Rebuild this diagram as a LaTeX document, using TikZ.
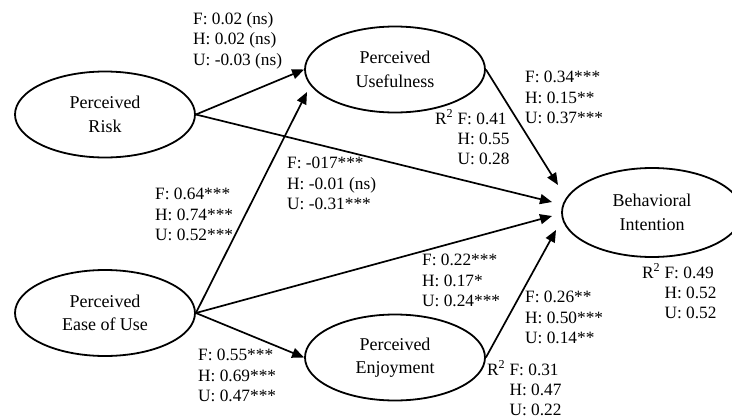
\documentclass[tikz,border=0pt]{standalone}
\usepackage{fontspec}
\setmainfont{Liberation Serif}
\usepackage{tikz}
\usetikzlibrary{
    arrows.meta,
    shapes.geometric
}

\begin{document}
\begin{tikzpicture}[x=1pt, y=-1pt,
    construct/.style={ellipse, draw, line width=1.8pt, minimum width=180pt, minimum height=86pt, inner sep=0pt, align=center, font=\fontsize{18}{23.5}\selectfont},
    coef/.style={anchor=north west, inner sep=0pt, align=left, font=\fontsize{17.3}{20.5}\selectfont},
    rsq/.style={anchor=base west, inner sep=0pt, font=\fontsize{17.3}{20}\selectfont},
    link/.style={-{Triangle[length=12pt, width=10pt]}, line width=1.7pt}
]
    \useasboundingbox (0,0) rectangle (732,418);

    % Constructs
    \node[construct] (pr) at (105,114.5) {Perceived\\Risk};
    \node[construct] (pu) at (395,69.5) {Perceived\\Usefulness};
    \node[construct] (peou) at (105,313) {Perceived\\Ease of Use};
    \node[construct] (pe) at (395,357.5) {Perceived\\Enjoyment};
    \node[construct, minimum height=89pt] (bi) at (652,212.5) {Behavioral\\Intention};

    % Arrow ends
    \coordinate (pu-in) at (307,92);
    \coordinate (bi-in1) at (558,185);
    \coordinate (bi-in2) at (552,202);
    \coordinate (bi-in3) at (552,216);
    \coordinate (bi-in4) at (556,230);

    % Paths
    \draw[link] (pr.east) -- (pu.west);
    \draw[link] (pr.east) -- (bi-in2);
    \draw[link] (peou.east) -- (pu-in);
    \draw[link] (peou.east) -- (bi-in3);
    \draw[link] (peou.east) -- (pe.west);
    \draw[link] (pu.east) -- (bi-in1);
    \draw[link] (pe.east) -- (bi-in4);

    % Path coefficients
    \node[coef] (c-pr-pu) at (193,12) {F: 0.02 (ns)\\H: 0.02 (ns)\\U: -0.03 (ns)};
    \node[coef] (c-pr-bi) at (287,157) {F: -017***\\H: -0.01 (ns)\\U: -0.31***};
    \node[coef] (c-peou-pu) at (155,188) {F: 0.64***\\H: 0.74***\\U: 0.52***};
    \node[coef] (c-peou-bi) at (422,254) {F: 0.22***\\H: 0.17*\\U: 0.24***};
    \node[coef] (c-peou-pe) at (198,349) {F: 0.55***\\H: 0.69***\\U: 0.47***};
    \node[coef] (c-pu-bi) at (525,71) {F: 0.34***\\H: 0.15**\\U: 0.37***};
    \node[coef] (c-pe-bi) at (525,291) {F: 0.26**\\H: 0.50***\\U: 0.14**};

    % R squared
    \node[rsq] (r-pu) at (435,124) {\begin{tabular}[t]{@{}l@{ }l@{}}R\textsuperscript{2} & F: 0.41\\ & H: 0.55\\ & U: 0.28\end{tabular}};
    \node[rsq] (r-pe) at (487,375) {\begin{tabular}[t]{@{}l@{ }l@{}}R\textsuperscript{2} & F: 0.31\\ & H: 0.47\\ & U: 0.22\end{tabular}};
    \node[rsq] (r-bi) at (642,278) {\begin{tabular}[t]{@{}l@{ }l@{}}R\textsuperscript{2} & F: 0.49\\ & H: 0.52\\ & U: 0.52\end{tabular}};
\end{tikzpicture}
\end{document}
